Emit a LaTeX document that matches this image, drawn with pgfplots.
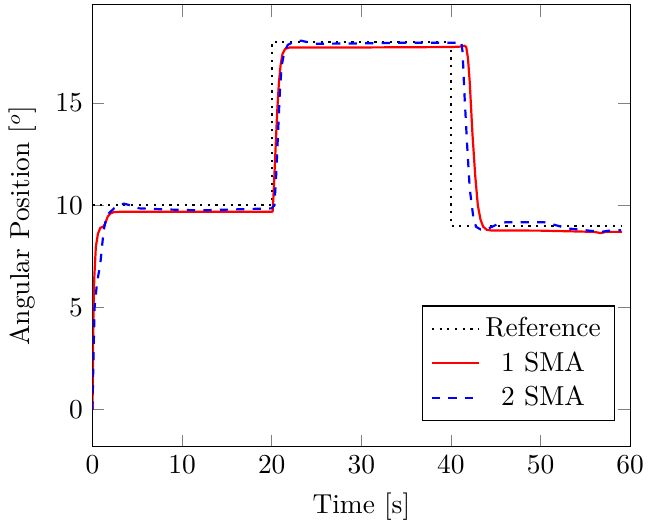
\documentclass[border=0pt]{standalone}
\usepackage{pgfplots}
\pgfplotsset{compat=1.18}
\begin{document}
\begin{tikzpicture}
\begin{axis}[
  scale only axis,
  width=196pt, height=161pt,
  xmin=0, xmax=60,
  ymin=-1.8, ymax=19.8,
  xtick={0,10,20,30,40,50,60},
  ytick={0,5,10,15},
  xlabel={Time [s]},
  ylabel={Angular Position [$^o$]},
  legend style={at={(0.972,0.057)}, anchor=south east},
  legend cell align=center,
]
\addplot[black, thick, dotted] coordinates {
(0,10) (20,10) (20,18) (40,18) (40,9) (59,9)
};
\addlegendentry{Reference}
\addplot[red, thick] coordinates {
(0,0) (0.05,2.5) (0.11,5.0) (0.2,6.5) (0.37,7.96) (0.6,8.6) (0.87,8.9) (1.2,8.95)
(1.4,9.1) (1.7,9.45) (2.0,9.6) (2.4,9.67) (3,9.68) (10,9.68) (20,9.68)
(20.1,9.7) (20.2,10.5) (20.4,12.5) (20.6,14.5) (20.8,16.0) (21.0,16.9) (21.2,17.4)
(21.5,17.65) (22,17.72) (30,17.72) (40,17.74) (41.0,17.76) (41.5,17.8) (41.7,17.75)
(41.9,17.2) (42.1,16.0) (42.4,13.5) (42.7,11.5) (43.0,10.0) (43.3,9.3) (43.6,8.95)
(44,8.8) (44.5,8.77) (50,8.76) (56,8.7) (56.7,8.64) (57.3,8.7) (59.1,8.7)
};
\addlegendentry{1 SMA}
\addplot[blue, thick, dashed] coordinates {
(0,0) (0.1,2.5) (0.23,5.0) (0.5,6.2) (0.87,7.15) (1.24,8.77) (1.5,9.3) (1.8,9.6)
(2.4,9.85) (3.0,10.0) (3.5,10.08) (4.2,10.0) (5.2,9.85) (8,9.8) (12,9.75) (16,9.8)
(20,9.85) (20.3,10.0) (20.5,11.5) (20.7,13.5) (20.9,15.5) (21.1,16.8) (21.4,17.5)
(21.8,17.85) (22.5,18.0) (23.3,18.05) (24.8,17.9) (30,17.92) (35,17.95) (40,17.95)
(41.0,17.95) (41.15,18.0) (41.3,17.5) (41.5,15.5) (41.8,13.0) (42.1,10.8) (42.5,9.4)
(42.8,8.95) (43.3,8.82) (43.9,8.82) (44.6,8.95) (45.3,9.1) (46.1,9.17) (50.4,9.17)
(51.5,9.05) (53,8.87) (55,8.78) (56.8,8.7) (57.5,8.75) (59,8.78)
};
\addlegendentry{2 SMA}
\end{axis}
\path (current axis.north) ++(0,1.8pt);
\end{tikzpicture}
\end{document}
